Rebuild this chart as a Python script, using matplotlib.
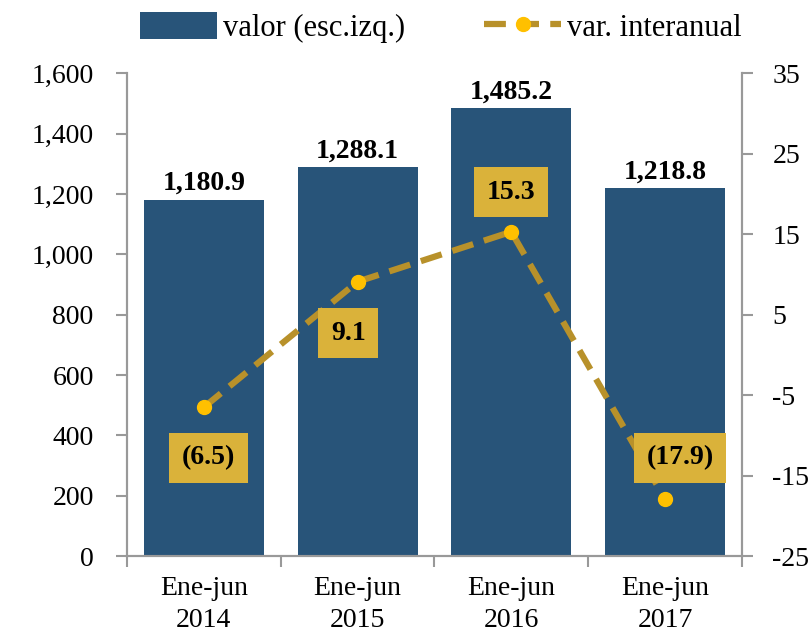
import matplotlib.pyplot as plt
import numpy as np

plt.rcParams['font.family'] = ['Liberation Serif', 'DejaVu Serif']
plt.rcParams['axes.unicode_minus'] = False

categorias = ['Ene-jun\n2014', 'Ene-jun\n2015', 'Ene-jun\n2016', 'Ene-jun\n2017']
valor = [1180.9, 1288.1, 1485.2, 1218.8]
var_interanual = [-6.5, 9.1, 15.3, -17.9]
etiquetas_var = ['(6.5)', '9.1', '15.3', '(17.9)']
# offsets of the gold boxes from their points (in right-axis units)
offset_var = [-6.3, -6.4, 4.9, 5.1]
offset_x = [0.03, -0.06, 0.0, 0.1]

c_bar = '#285479'
c_line = '#B8912A'
c_mark = '#FFC000'
c_box = '#DAB23A'
c_spine = '#999999'

fig = plt.figure(figsize=(8.09, 6.37), dpi=100)
ax = fig.add_axes([0.157, 0.127, 0.76, 0.758])
ax2 = ax.twinx()

x = np.arange(len(categorias))
bars = ax.bar(x, valor, width=0.78, color=c_bar, label='valor (esc.izq.)', zorder=2)
ax.set_xlim(-0.5, 3.5)
ax.set_ylim(0, 1600)
ax.set_yticks(np.arange(0, 1601, 200))
ax.set_yticklabels([f'{v:,}' for v in range(0, 1601, 200)])
ax.set_xticks(x)
ax.set_xticklabels(categorias, linespacing=1.4)
ax.set_xticks(np.arange(-0.5, 3.6, 1), minor=True)
ax.tick_params(axis='x', which='major', length=0, labelsize=20, pad=14)
ax.tick_params(axis='x', which='minor', length=8, color=c_spine, width=1.5)
ax.tick_params(axis='y', labelsize=20, length=8, color=c_spine, width=1.5, pad=16)

for b, v in zip(bars, valor):
    ax.text(b.get_x() + b.get_width() / 2, v + 12, f'{v:,.1f}', ha='center', va='bottom',
            fontsize=20, fontweight='bold')

ax2.plot(x, var_interanual, color=c_line, linestyle=(0, (3.5, 1.8)), linewidth=4.5,
         marker='o', markersize=10, markerfacecolor=c_mark, markeredgecolor=c_mark,
         label='var. interanual', zorder=3)
ax2.set_ylim(-25, 35)
ax2.set_yticks(np.arange(-25, 36, 10))
ax2.tick_params(axis='y', labelsize=20, length=8, color=c_spine, width=1.5, pad=14)

for xi, v, lab, dy, dx in zip(x, var_interanual, etiquetas_var, offset_var, offset_x):
    ax2.text(xi + dx, v + dy, lab, ha='center', va='center', fontsize=20, fontweight='bold',
             bbox=dict(boxstyle='square,pad=0.45', facecolor=c_box, edgecolor='none'), zorder=4)

for a in (ax, ax2):
    a.spines['top'].set_visible(False)
    for s in ('left', 'right', 'bottom'):
        a.spines[s].set_color(c_spine)
        a.spines[s].set_linewidth(1.5)

h1, l1 = ax.get_legend_handles_labels()
h2, l2 = ax2.get_legend_handles_labels()
fig.legend(h1 + h2, l1 + l2, loc='upper center', bbox_to_anchor=(0.545, 1.025), ncol=2,
           frameon=False, fontsize=22, handlelength=2.5, handleheight=1.0,
           columnspacing=2.6, handletextpad=0.2)

fig.savefig('out.png', dpi=100)
